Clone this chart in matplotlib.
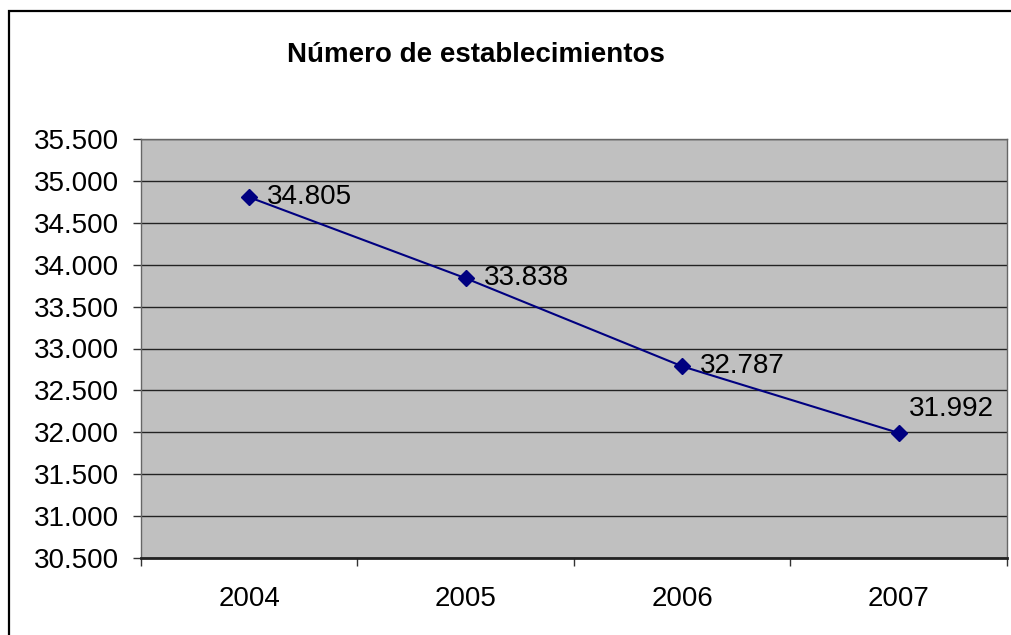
import matplotlib
matplotlib.use("Agg")
import matplotlib.pyplot as plt
from matplotlib.patches import Rectangle
from matplotlib.ticker import FixedLocator, FuncFormatter

title = "Número de establecimientos"
years = ["2004", "2005", "2006", "2007"]
values = [34805, 33838, 32787, 31992]
y_ticks = [30500, 31000, 31500, 32000, 32500, 33000, 33500, 34000, 34500, 35000, 35500]

def fmt(v):
    return f"{int(v):,}".replace(",", ".")

plt.rcParams['font.family'] = ['Liberation Sans', 'DejaVu Sans']

fig = plt.figure(figsize=(10.12, 6.35), dpi=100)
W, H = 1012, 635
ax = fig.add_axes([141 / W, 1 - 558 / H, (1007 - 141) / W, (558 - 139) / H])
ax.set_facecolor("#C0C0C0")

x = list(range(len(years)))
ax.plot(x, values, color="#000080", lw=1.5, marker="D", markersize=8,
        markerfacecolor="#000080", markeredgecolor="#000080", zorder=3)

offsets = [(13, 0), (13, 0), (13, 0), (7, 17)]
for xi, v, off in zip(x, values, offsets):
    ax.annotate(fmt(v), (xi, v), xytext=off, textcoords="offset points",
                ha="left", va="center", fontsize=20, color="black", zorder=4)

ax.set_xlim(-0.5, len(years) - 0.5)
ax.set_ylim(y_ticks[0], y_ticks[-1])
ax.yaxis.set_major_locator(FixedLocator(y_ticks))
ax.yaxis.set_major_formatter(FuncFormatter(lambda v, p: fmt(v)))
ax.grid(axis="y", color="#222222", lw=1.0, zorder=1)
ax.set_axisbelow(True)

ax.set_xticks(x)
ax.set_xticklabels(years)
ax.set_xticks([i - 0.5 for i in range(len(years) + 1)], minor=True)
ax.tick_params(axis="x", which="major", length=0, pad=20, labelsize=20)
ax.tick_params(axis="x", which="minor", length=6, width=1, color="#333333", direction="out")
ax.tick_params(axis="y", which="major", length=6, width=1, color="#333333", pad=10, labelsize=20)

for s in ["left", "right", "top"]:
    ax.spines[s].set_color("#666666")
    ax.spines[s].set_linewidth(1.0)
ax.spines["bottom"].set_color("#222222")
ax.spines["bottom"].set_linewidth(2.0)

fig.text(476 / W, 1 - 55 / H, title, ha="center", va="center",
         fontsize=20, fontweight="bold")

fig.patches.append(Rectangle((8.5 / W, -0.2), 2.0, 1.2 - 11 / H,
                             transform=fig.transFigure, fill=False,
                             edgecolor="black", lw=1.6, clip_on=False))

fig.savefig("out.png", dpi=100)
